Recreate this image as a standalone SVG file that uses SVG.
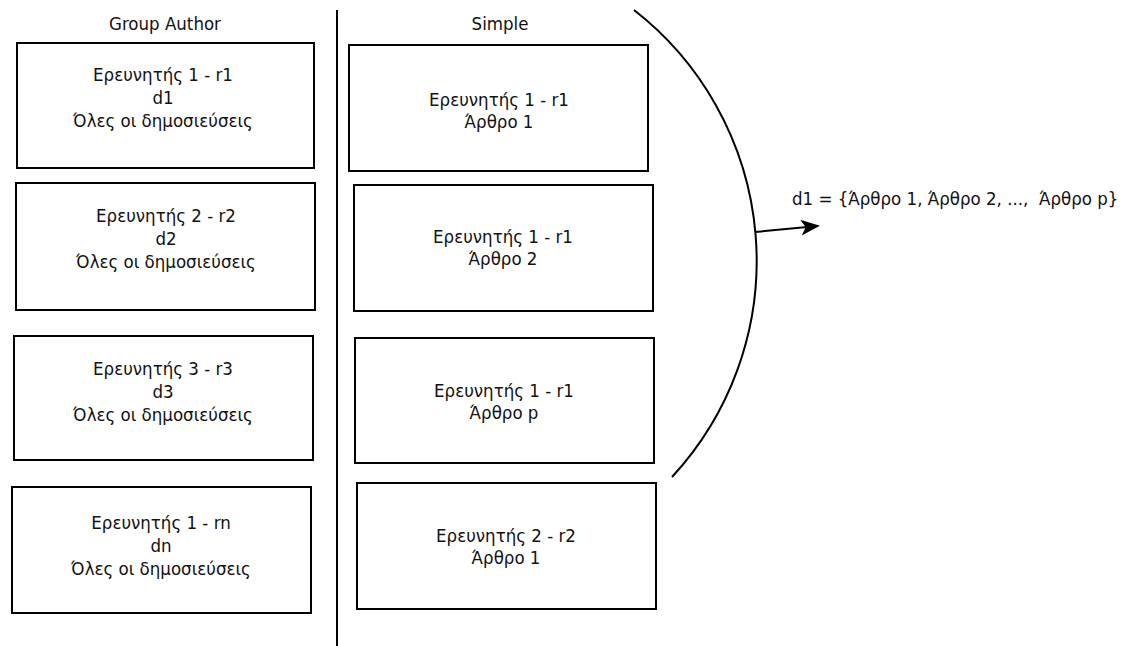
<svg xmlns="http://www.w3.org/2000/svg" width="1123" height="646" viewBox="0 0 1123 646">
  <style>
    .box { fill: #ffffff; stroke: #000000; stroke-width: 2; }
    .lbl { font-family: "DejaVu Sans Condensed", "DejaVu Sans", sans-serif; font-stretch: condensed; font-size: 18.5px; fill: #111111; text-anchor: middle; }
    .free { text-anchor: start; white-space: pre; }
    .line { fill: none; stroke: #000000; stroke-width: 2; }
  </style>
  <defs>
    <marker id="arrow" viewBox="0 0 10 10" refX="9" refY="5" markerWidth="9.5" markerHeight="8" orient="auto" markerUnits="strokeWidth" preserveAspectRatio="none">
      <path d="M0,0 L10,5 L0,10 L2.5,5 Z" fill="#000000"/>
    </marker>
  </defs>
  <rect width="1123" height="646" fill="#ffffff"/>

  <!-- column headings -->
  <text class="lbl" x="165" y="30">Group Author</text>
  <text class="lbl" x="500" y="30">Simple</text>

  <!-- Group Author column -->
  <g id="ga1">
    <rect class="box" x="17" y="43" width="297" height="125"/>
    <text class="lbl" x="163" y="81">Ερευνητής 1 - r1</text>
    <text class="lbl" x="163" y="104">d1</text>
    <text class="lbl" x="163" y="127">Όλες οι δημοσιεύσεις</text>
  </g>
  <g id="ga2">
    <rect class="box" x="16" y="183" width="299" height="127"/>
    <text class="lbl" x="166" y="222">Ερευνητής 2 - r2</text>
    <text class="lbl" x="166" y="245">d2</text>
    <text class="lbl" x="166" y="268">Όλες οι δημοσιεύσεις</text>
  </g>
  <g id="ga3">
    <rect class="box" x="14" y="336" width="299" height="124"/>
    <text class="lbl" x="163" y="375">Ερευνητής 3 - r3</text>
    <text class="lbl" x="163" y="398">d3</text>
    <text class="lbl" x="163" y="421">Όλες οι δημοσιεύσεις</text>
  </g>
  <g id="ga4">
    <rect class="box" x="12" y="487" width="299" height="126"/>
    <text class="lbl" x="161" y="529">Ερευνητής 1 - rn</text>
    <text class="lbl" x="161" y="552">dn</text>
    <text class="lbl" x="161" y="575">Όλες οι δημοσιεύσεις</text>
  </g>

  <!-- Simple column -->
  <g id="s1">
    <rect class="box" x="349" y="45" width="299" height="126"/>
    <text class="lbl" x="499" y="106">Ερευνητής 1 - r1</text>
    <text class="lbl" x="499" y="128">Άρθρο 1</text>
  </g>
  <g id="s2">
    <rect class="box" x="354" y="185" width="299" height="126"/>
    <text class="lbl" x="503" y="243">Ερευνητής 1 - r1</text>
    <text class="lbl" x="503" y="265">Άρθρο 2</text>
  </g>
  <g id="s3">
    <rect class="box" x="355" y="338" width="299" height="125"/>
    <text class="lbl" x="504" y="397">Ερευνητής 1 - r1</text>
    <text class="lbl" x="504" y="419">Άρθρο p</text>
  </g>
  <g id="s4">
    <rect class="box" x="357" y="483" width="299" height="126"/>
    <text class="lbl" x="506" y="542">Ερευνητής 2 - r2</text>
    <text class="lbl" x="506" y="564">Άρθρο 1</text>
  </g>

  <!-- result set label -->
  <g id="result">
    <text class="lbl free" x="792" y="205">d1 = {Άρθρο 1, Άρθρο 2, ...,  Άρθρο p}</text>
  </g>

  <!-- separator, bracket arc and arrow -->
  <g id="connectors">
    <line class="line" x1="337" y1="10" x2="337" y2="646"/>
    <path class="line" d="M634,10 A318,318 0 0 1 672,477"/>
    <line class="line" x1="755" y1="232" x2="818" y2="226" marker-end="url(#arrow)"/>
  </g>
</svg>
